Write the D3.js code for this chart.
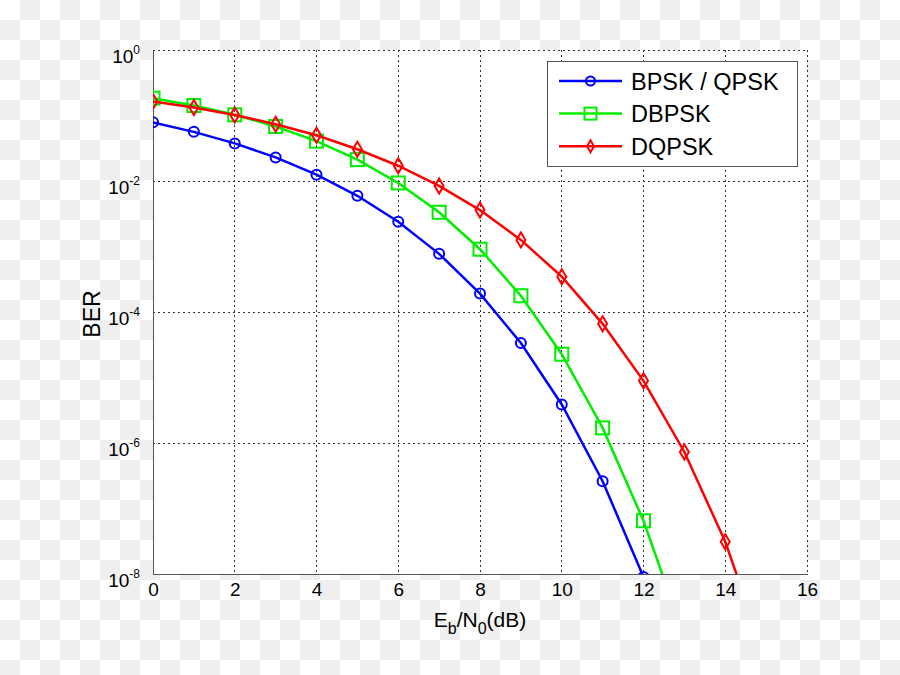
<!DOCTYPE html>
<html>
<head>
<meta charset="utf-8">
<script src="https://cdn.jsdelivr.net/npm/d3@7"></script>
<style>
  body { margin: 0; }
  svg { display: block; font-family: "Liberation Sans", Arial, sans-serif; }
</style>
</head>
<body>
<svg id="chart"></svg>
<script>
// Eb/N0 points (dB)
const ebn0 = [0, 1, 2, 3, 4, 5, 6, 7, 8, 9, 10, 11, 12, 13, 14, 15];

// BER values
const berBpsk = [0.0786, 0.0563, 0.0375, 0.0229, 0.0125, 0.00595, 0.00239, 0.000773,
                 0.000191, 3.36e-5, 3.87e-6, 2.61e-7, 9.0e-9];
const berDbpsk = [0.184, 0.142, 0.1025, 0.068, 0.0406, 0.0212, 0.00933, 0.00333,
                  0.000909, 0.000177, 2.27e-5, 1.7e-6, 6.5e-8, 1.1e-9];
const berDqpsk = [0.163, 0.132, 0.102, 0.0735, 0.050, 0.0305, 0.0171, 0.0084,
                  0.0036, 0.00126, 0.000346, 6.6e-5, 8.9e-6, 7.3e-7, 3.1e-8, 5.0e-10];

const seriesNames = ["BPSK / QPSK", "DBPSK", "DQPSK"];
const seriesColors = ["#0000ff", "#00ee00", "#ff0000"];
const seriesMarkers = ["circle", "square", "diamond"];

const xTicks = [0, 2, 4, 6, 8, 10, 12, 14, 16];
const yExps = [0, -2, -4, -6, -8];

const width = 900, height = 675;
const margin = { top: 50, right: 93, bottom: 101, left: 153 };
const iw = width - margin.left - margin.right;
const ih = height - margin.top - margin.bottom;

const svg = d3.select("#chart")
    .attr("width", width)
    .attr("height", height);

// transparent-style checkerboard backdrop
const defs = svg.append("defs");
const pat = defs.append("pattern")
    .attr("id", "checker")
    .attr("width", 40).attr("height", 40)
    .attr("patternUnits", "userSpaceOnUse");
pat.append("rect").attr("width", 40).attr("height", 40).attr("fill", "#ffffff");
pat.append("rect").attr("x", 20).attr("y", 0).attr("width", 20).attr("height", 20).attr("fill", "#efefef");
pat.append("rect").attr("x", 0).attr("y", 20).attr("width", 20).attr("height", 20).attr("fill", "#efefef");
svg.append("rect").attr("width", width).attr("height", height).attr("fill", "url(#checker)");

defs.append("clipPath").attr("id", "plotclip")
    .append("rect").attr("width", iw).attr("height", ih);

const x = d3.scaleLinear().domain([0, 16]).range([0, iw]);
const y = d3.scaleLog().domain([1e-8, 1]).range([ih, 0]);

const g = svg.append("g").attr("transform", `translate(${margin.left},${margin.top})`);

g.append("rect").attr("width", iw).attr("height", ih).attr("fill", "#ffffff");

// dotted grid
const grid = g.append("g")
    .attr("stroke", "#333")
    .attr("stroke-width", 1)
    .attr("stroke-dasharray", "2,3")
    .attr("shape-rendering", "crispEdges");
grid.selectAll("line.vx")
    .data(xTicks.slice(1))
    .enter().append("line")
    .attr("x1", d => x(d)).attr("x2", d => x(d))
    .attr("y1", 0).attr("y2", ih);
grid.selectAll("line.hy")
    .data(yExps.slice(0, -1))
    .enter().append("line")
    .attr("x1", 0).attr("x2", iw)
    .attr("y1", d => y(Math.pow(10, d))).attr("y2", d => y(Math.pow(10, d)));

// axes (solid left/bottom)
const xAxis = g.append("g")
    .attr("transform", `translate(0,${ih})`)
    .call(d3.axisBottom(x).tickValues(xTicks).tickSize(0).tickPadding(9).tickFormat(d3.format("d")));
xAxis.select(".domain").attr("stroke", "#555").attr("shape-rendering", "crispEdges");
xAxis.selectAll("text").attr("font-size", 19).attr("fill", "#000")
    .attr("font-family", "Liberation Sans, Arial, sans-serif");

const yAxis = g.append("g")
    .call(d3.axisLeft(y).tickValues(yExps.map(e => Math.pow(10, e))).tickSize(0).tickFormat(""));
yAxis.select(".domain").attr("stroke", "#555").attr("shape-rendering", "crispEdges");
yAxis.selectAll(".tick text").remove();
yAxis.selectAll(".tick").each(function (d) {
    const t = d3.select(this).append("text")
        .attr("x", -13)
        .attr("y", 12)
        .attr("text-anchor", "end")
        .attr("font-size", 19)
        .attr("fill", "#000")
        .attr("font-family", "Liberation Sans, Arial, sans-serif");
    t.append("tspan").text("10");
    t.append("tspan").attr("dy", -9).attr("font-size", 12)
        .text(String(Math.round(Math.log10(d))));
});

// series
const series = [berBpsk, berDbpsk, berDqpsk].map((vals, i) => ({
    name: seriesNames[i],
    color: seriesColors[i],
    marker: seriesMarkers[i],
    points: vals.map((v, j) => ({ x: ebn0[j], y: v }))
}));

const line = d3.line().x(d => x(d.x)).y(d => y(d.y));

function drawMarker(sel, type, color) {
    if (type === "circle") {
        sel.append("circle").attr("r", 5);
    } else if (type === "square") {
        sel.append("rect").attr("x", -6.5).attr("y", -6.5).attr("width", 13).attr("height", 13);
    } else {
        sel.append("path").attr("d", "M0,-7.5L4.5,0L0,7.5L-4.5,0Z");
    }
    sel.attr("fill", "none").attr("stroke", color).attr("stroke-width", 2);
}

const plot = g.append("g").attr("clip-path", "url(#plotclip)");
series.forEach(s => {
    plot.append("path")
        .datum(s.points)
        .attr("fill", "none")
        .attr("stroke", s.color)
        .attr("stroke-width", 2.5)
        .attr("d", line);
    plot.selectAll(null)
        .data(s.points)
        .enter().append("g")
        .attr("transform", d => `translate(${x(d.x)},${y(d.y)})`)
        .each(function () { drawMarker(d3.select(this), s.marker, s.color); });
});

// axis titles
const xl = svg.append("text")
    .attr("x", margin.left + iw / 2)
    .attr("y", 627)
    .attr("text-anchor", "middle")
    .attr("font-size", 21);
xl.append("tspan").text("E");
xl.append("tspan").attr("dy", 7).attr("font-size", 16).text("b");
xl.append("tspan").attr("dy", -7).text("/N");
xl.append("tspan").attr("dy", 7).attr("font-size", 16).text("0");
xl.append("tspan").attr("dy", -7).text("(dB)");

svg.append("text")
    .attr("transform", `translate(100,${margin.top + ih / 2 + 2}) rotate(-90)`)
    .attr("text-anchor", "middle")
    .attr("font-size", 23)
    .text("BER");

// legend
const legend = svg.append("g").attr("transform", "translate(547,61)");
legend.append("rect")
    .attr("width", 250).attr("height", 105)
    .attr("fill", "#ffffff")
    .attr("stroke", "#555")
    .attr("stroke-width", 1)
    .attr("shape-rendering", "crispEdges");
series.forEach((s, i) => {
    const ly = 20 + i * 32.6;
    const row = legend.append("g").attr("transform", `translate(0,${ly})`);
    row.append("line")
        .attr("x1", 12).attr("x2", 75)
        .attr("stroke", s.color).attr("stroke-width", 2.5);
    const m = row.append("g").attr("transform", "translate(43.5,0)");
    if (s.marker === "circle") {
        m.append("circle").attr("r", 4.5);
    } else if (s.marker === "square") {
        m.append("rect").attr("x", -6).attr("y", -6).attr("width", 12).attr("height", 12);
    } else {
        m.append("path").attr("d", "M0,-6L3.5,0L0,6L-3.5,0Z");
    }
    m.attr("fill", "none").attr("stroke", s.color).attr("stroke-width", 2);
    row.append("text")
        .attr("x", 84)
        .attr("y", 8.8)
        .attr("font-size", 23.5)
        .text(s.name);
});
</script>
</body>
</html>
